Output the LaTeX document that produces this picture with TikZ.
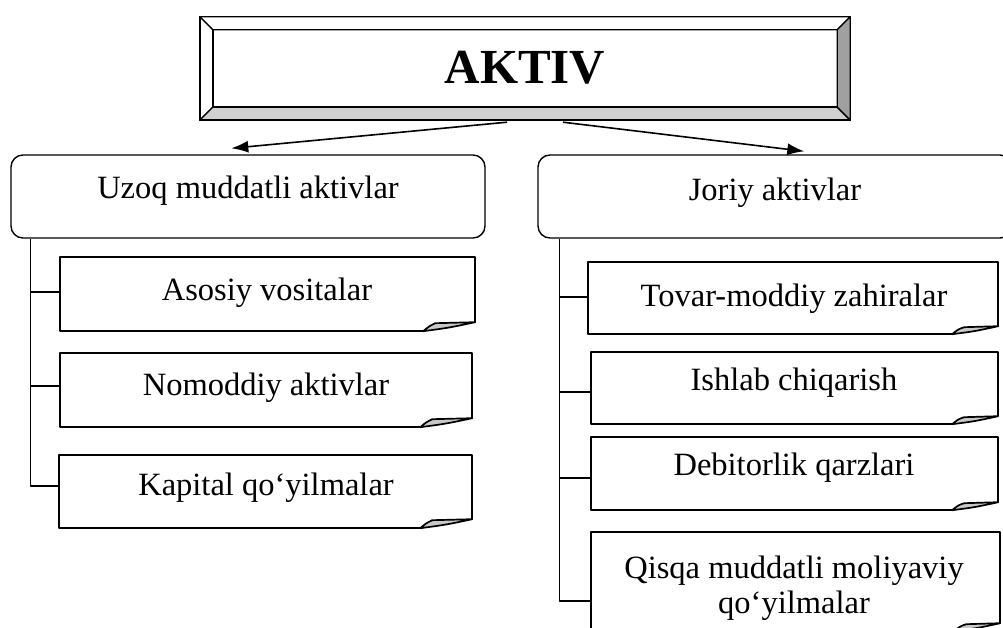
\documentclass[tikz,border=0pt]{standalone}
\usepackage{fontspec}
\setmainfont{Liberation Serif}
\usetikzlibrary{calc,arrows.meta}
\definecolor{bevellight}{HTML}{D0D0D0}
\definecolor{beveldark}{HTML}{A0A0A0}
\definecolor{foldgray}{HTML}{C8C8C8}

% outline of a note box with a curled lower right corner
% #1 node name, #2 fold width, #3 fold height
\newcommand\foldframe[3]{%
  \draw[line width=1.5pt] ($(#1.south east)+(0,-#3)$) -- (#1.north east)
     -- (#1.north west) -- (#1.south west) -- ($(#1.south east)+(-#2,0)$);
  \filldraw[fill=foldgray, line width=1.7pt]
     ($(#1.south east)+(-#2,0)$)
     .. controls ($(#1.south east)+(-#2+6,-5)$) .. ($(#1.south east)+(-#2+12,-#3+1)$)
     -- ($(#1.south east)+(0,-#3)$)
     .. controls ($(#1.south east)+(-#2/2,-#3/2+1)$) .. ($(#1.south east)+(-#2,0)$)
     -- cycle;
}

\begin{document}
\begin{tikzpicture}[x=1pt,y=-1pt,line join=round,
  headbox/.style={draw=none, inner sep=0pt, minimum width=650pt, minimum height=103pt,
    font=\fontsize{49}{56}\selectfont\bfseries},
  groupbox/.style={draw, line width=1.4pt, rounded corners=12pt, inner sep=0pt,
    minimum width=474pt, minimum height=83pt},
  itembox/.style={draw=none, inner sep=0pt},
  lbl/.style={font=\fontsize{32.5}{38}\selectfont, anchor=base, inner sep=0pt},
  conn/.style={line width=1.4pt},
  arr/.style={line width=1.6pt, -{Latex[length=17pt,width=12pt]}}]

\clip (0,0) rectangle (1003,628);
\fill[white] (0,0) rectangle (1003,628);

% bevelled title panel
\node[headbox] (aktiv) at (525,68.5) {};
\begin{scope}[line width=1.4pt]
  \filldraw[fill=white] (aktiv.north west) -- (aktiv.north east)
     -- ($(aktiv.north east)+(-13,13)$) -- ($(aktiv.north west)+(13,13)$) -- cycle;
  \filldraw[fill=white] (aktiv.north west) -- (aktiv.south west)
     -- ($(aktiv.south west)+(13,-13)$) -- ($(aktiv.north west)+(13,13)$) -- cycle;
  \filldraw[fill=bevellight] (aktiv.south west) -- (aktiv.south east)
     -- ($(aktiv.south east)+(-13,-13)$) -- ($(aktiv.south west)+(13,-13)$) -- cycle;
  \filldraw[fill=beveldark] (aktiv.north east) -- (aktiv.south east)
     -- ($(aktiv.south east)+(-13,-13)$) -- ($(aktiv.north east)+(-13,13)$) -- cycle;
  \draw ($(aktiv.north west)+(13,13)$) rectangle ($(aktiv.south east)+(-13,-13)$);
  \draw (aktiv.north west) rectangle (aktiv.south east);
\end{scope}
\node[headbox, anchor=base] (aktivtext) at (525,84) {AKTIV};

% two groups
\node[groupbox] (uzoq) at (248,196.5) {};
\node[lbl] (uzoqt) at (248,199) {Uzoq muddatli aktivlar};
\node[groupbox] (joriy) at (775,196.5) {};
\node[lbl] (joriyt) at (775,201) {Joriy aktivlar};

\draw[arr] ($(aktiv.south)+(-18,2)$) -- ($(uzoq.north west)+(221,-6)$);
\draw[arr] ($(aktiv.south)+(38,2)$) -- ($(joriy.north west)+(267,-3)$);

% items of the first group
\node[itembox, minimum width=415pt, minimum height=74pt] (a1) at (267.5,294) {};
\node[itembox, minimum width=412pt, minimum height=74pt] (a2) at (266,390) {};
\node[itembox, minimum width=413pt, minimum height=73pt] (a3) at (265.5,491.5) {};
\foldframe{a1}{52}{9}
\foldframe{a2}{52}{9}
\foldframe{a3}{52}{9}
\node[lbl] (a1t) at (267,300) {Asosiy vositalar};
\node[lbl] (a2t) at (266,395) {Nomoddiy aktivlar};
\node[lbl] (a3t) at (266,495) {Kapital qo‘yilmalar};

% items of the second group
\node[itembox, minimum width=410pt, minimum height=72pt] (b1) at (793,298) {};
\node[itembox, minimum width=407pt, minimum height=72pt] (b2) at (794.5,388) {};
\node[itembox, minimum width=407pt, minimum height=73pt] (b3) at (794.5,473.5) {};
\node[itembox, minimum width=409pt, minimum height=99pt] (b4) at (795.5,581.5) {};
\foldframe{b1}{46}{8}
\foldframe{b2}{46}{8}
\foldframe{b3}{46}{8}
\foldframe{b4}{46}{8}
\node[lbl] (b1t) at (794,306) {Tovar-moddiy zahiralar};
\node[lbl] (b2t) at (794,390) {Ishlab chiqarish};
\node[lbl] (b3t) at (794,475) {Debitorlik qarzlari};
\node[lbl] (b4t) at (794,578) {Qisqa muddatli moliyaviy};
\node[lbl] (b4u) at (794,613) {qo‘yilmalar};

% tree connectors
\coordinate (ltop) at ($(uzoq.south west)+(20,0)$);
\coordinate (rtop) at ($(joriy.south west)+(22,0)$);
\draw[conn] (ltop) |- (a3.west |- 0,486);
\draw[conn] (ltop |- 0,292) -- (a1.west |- 0,292);
\draw[conn] (ltop |- 0,386) -- (a2.west |- 0,386);
\draw[conn] (rtop) |- (b4.west |- 0,601);
\draw[conn] (rtop |- 0,297) -- (b1.west |- 0,297);
\draw[conn] (rtop |- 0,392) -- (b2.west |- 0,392);
\draw[conn] (rtop |- 0,478) -- (b3.west |- 0,478);
\end{tikzpicture}
\end{document}
